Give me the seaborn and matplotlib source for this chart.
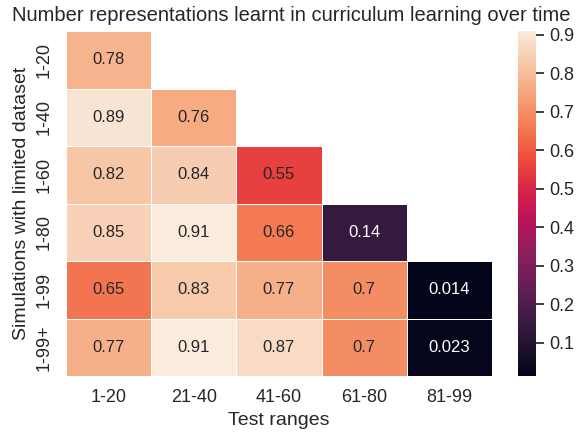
import numpy as np
import pandas as pd
import matplotlib
matplotlib.use("Agg")
import matplotlib.pyplot as plt
from matplotlib.ticker import MultipleLocator
import seaborn as sns

train_ranges = ["1-20", "1-40", "1-60", "1-80", "1-99", "1-99+"]
test_ranges = ["1-20", "21-40", "41-60", "61-80", "81-99"]

r_1_20 = [0.78, np.nan, np.nan, np.nan, np.nan]
r_1_40 = [0.89, 0.76, np.nan, np.nan, np.nan]
r_1_60 = [0.82, 0.84, 0.55, np.nan, np.nan]
r_1_80 = [0.85, 0.91, 0.66, 0.14, np.nan]
r_1_99 = [0.65, 0.83, 0.77, 0.70, 0.014]
r_1_99p = [0.77, 0.91, 0.87, 0.70, 0.023]

df = pd.DataFrame([r_1_20, r_1_40, r_1_60, r_1_80, r_1_99, r_1_99p],
                  index=train_ranges, columns=test_ranges)

sns.set_theme(style="white")
plt.rcParams['font.family'] = ['Liberation Sans', 'DejaVu Sans']

fig = plt.figure(figsize=(5.76, 4.32), dpi=100)
ax = fig.add_axes([0.1146, 0.1296, 0.7394, 0.7986])
cax = fig.add_axes([0.899, 0.1296, 0.031, 0.7986])
sns.heatmap(df, annot=True, linewidths=0.7, linecolor="white", ax=ax, cbar_ax=cax,
            annot_kws={"size": 12})
# older seaborn coloured the annotations this way: only dark cells get white
for t in ax.texts:
    t.set_color("white" if float(t.get_text()) < 0.3 else "#262626")
fig.text(0.506, 0.985, "Number representations learnt in curriculum learning over time",
         fontsize=14.5, ha="center", va="top", color="#262626")
ax.set_xlabel("Test ranges", fontsize=14)
ax.set_ylabel("Simulations with limited dataset", fontsize=14)
ax.tick_params(axis="both", labelsize=13)
cax.yaxis.set_major_locator(MultipleLocator(0.1))
cax.tick_params(labelsize=13)
plt.savefig("out.png")
